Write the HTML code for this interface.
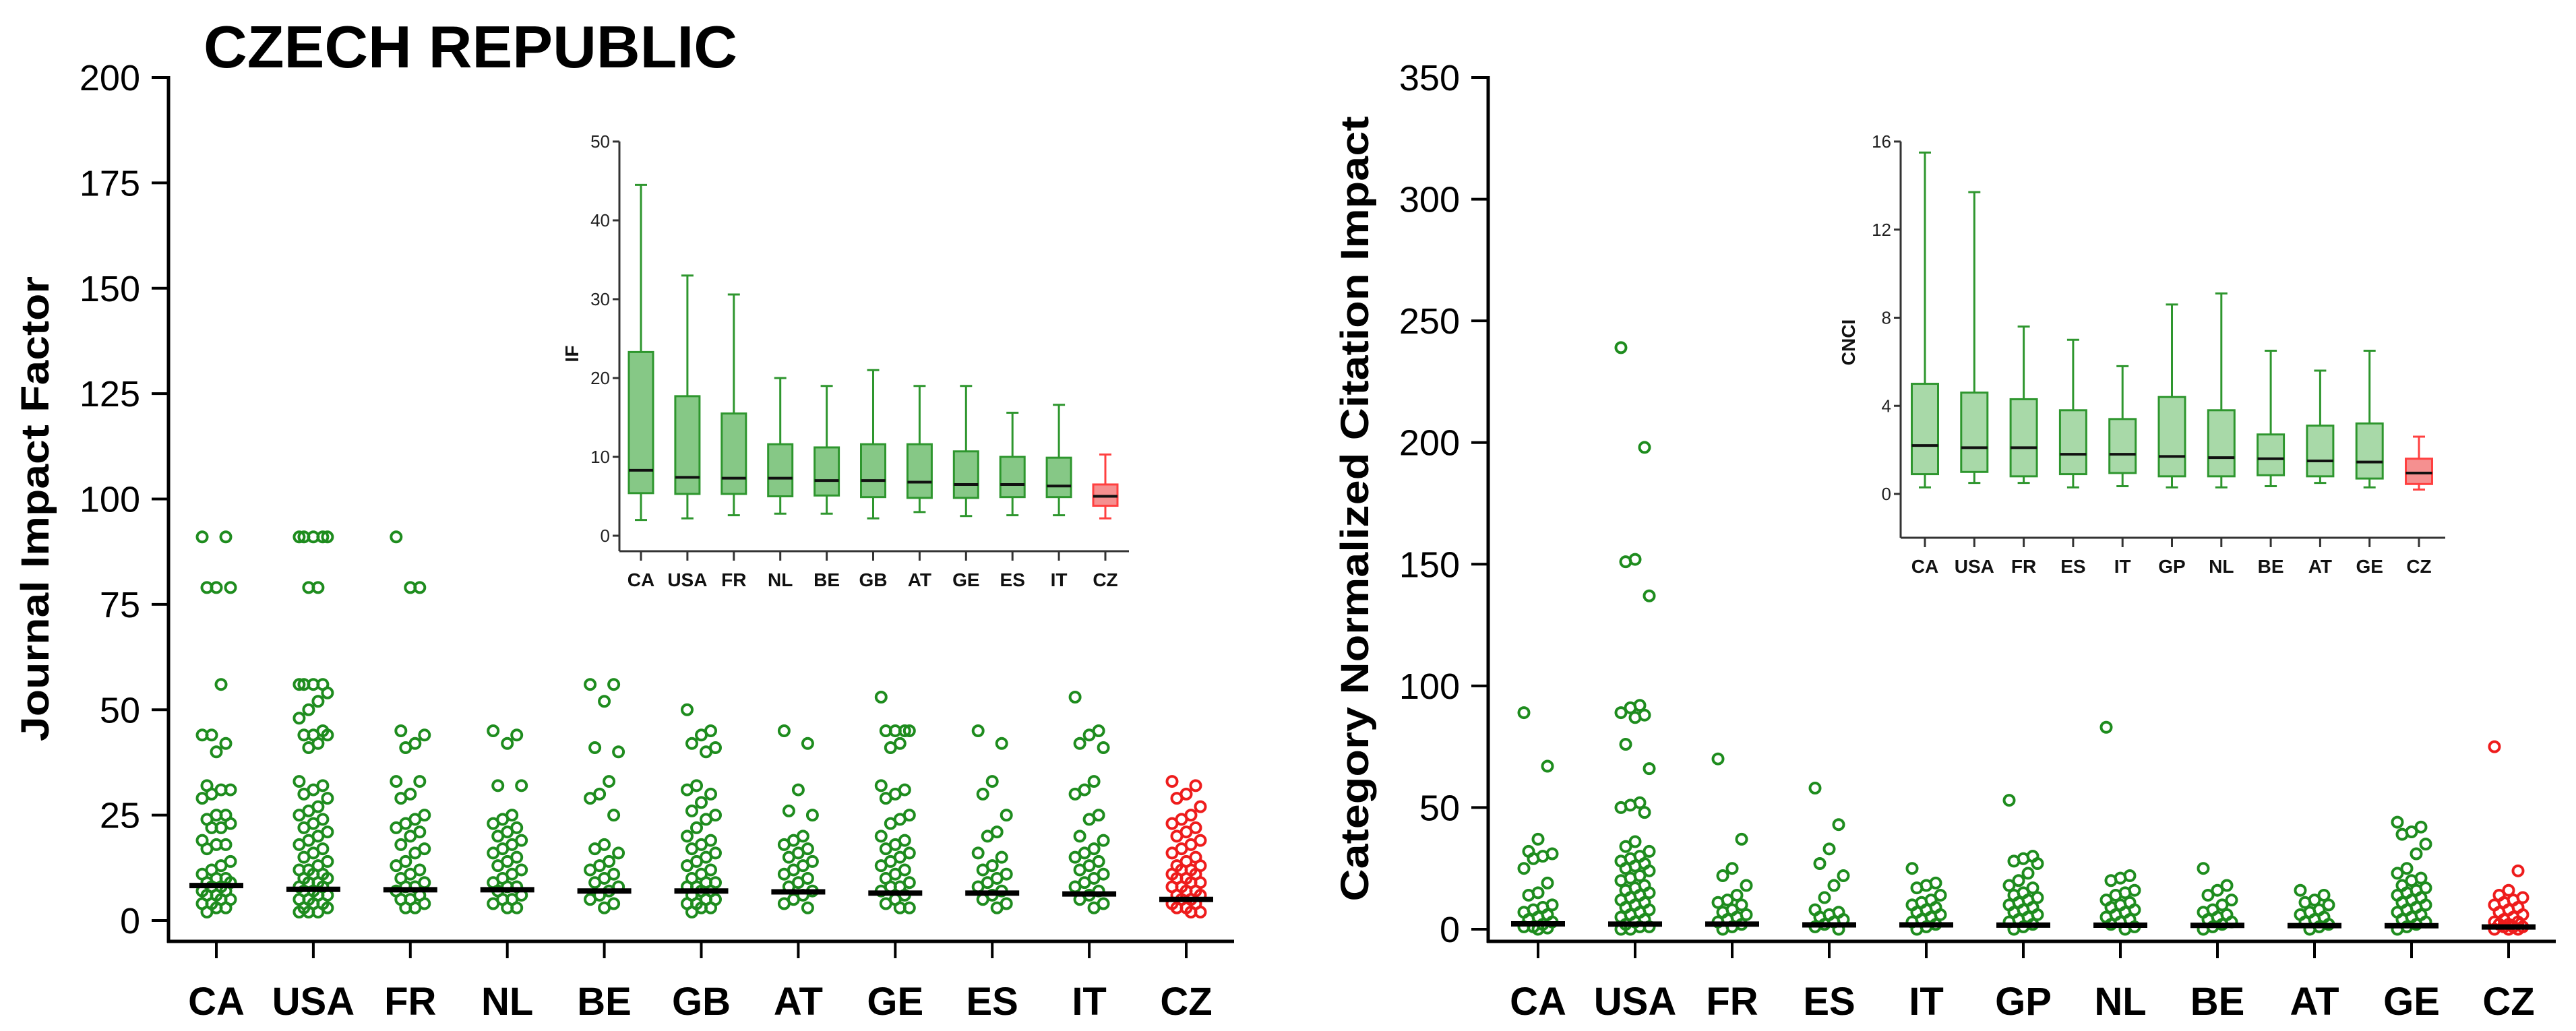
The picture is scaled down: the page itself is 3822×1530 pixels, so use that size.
<!DOCTYPE html>
<html><head><meta charset="utf-8"><style>
html,body{margin:0;padding:0;background:#fff;}
svg{display:block;font-family:"Liberation Sans",Arial,sans-serif;}
</style></head><body>
<svg id="chart" width="3822" height="1530" viewBox="0 0 3822 1530" xmlns="http://www.w3.org/2000/svg"></svg>
<script>
// ---------- DATA ----------
const leftCats = ["CA","USA","FR","NL","BE","GB","AT","GE","ES","IT","CZ"];
const leftYTicks = [0,25,50,75,100,125,150,175,200];
const leftPoints = [
 [91,91,79,79,79,56,44,44,42,40,32,31,31,30,29,25,25,24,23,22,22,19,18,18,17,14,13,12,11,10,10,9,9,8,8,7,7,6,6,5,5,4,4,3,3,2],
 [91,91,91,91,91,79,79,56,56,56,56,54,52,50,48,45,44,44,44,42,41,33,32,31,30,29,27,26,25,24,23,22,21,20,19,18,17,16,15,14,13,12,12,11,11,10,10,9,9,8,8,7,7,6,6,5,5,4,4,3,3,2,2,2],
 [91,79,79,45,44,42,41,33,33,30,29,25,24,23,22,21,20,18,17,16,14,13,12,11,10,9,8,8,7,6,5,5,4,3,3],
 [45,44,42,32,32,25,24,23,22,21,20,19,18,17,16,15,14,13,12,11,10,9,8,8,7,6,5,5,4,3,3],
 [56,56,52,41,40,33,30,29,25,18,17,16,14,13,12,11,10,9,8,7,6,5,4,3],
 [50,45,44,42,41,40,32,31,30,28,26,25,24,22,20,19,18,17,16,15,14,13,12,11,10,9,9,8,8,7,7,6,5,5,4,4,3,3,2],
 [45,42,31,26,25,20,19,18,17,16,15,14,13,12,11,10,9,8,7,6,5,4,3],
 [53,45,45,45,45,42,41,32,31,30,29,25,24,23,20,19,18,17,16,15,14,13,12,11,10,9,8,8,7,6,5,4,3,3],
 [45,42,33,30,25,21,20,16,15,13,12,11,10,9,8,7,6,5,4,3],
 [53,45,44,42,41,33,31,30,25,24,20,19,17,16,15,14,13,12,11,10,9,8,7,6,5,4,3],
 [33,32,30,29,27,25,24,23,22,21,20,19,18,17,16,15,14,13,13,12,12,11,11,10,10,9,9,8,8,7,7,6,6,5,5,4,4,3,3,2,2]
];
const leftMedians = [8.3,7.4,7.3,7.3,7.0,7.0,6.8,6.5,6.5,6.3,5.0];
const leftInsetTicks = [0,10,20,30,40,50];
const leftBoxLow = [2,2.2,2.6,2.8,2.8,2.2,3,2.5,2.6,2.6,2.2];
const leftBoxQ1 = [5.4,5.3,5.3,5.0,5.1,4.9,4.8,4.8,4.9,4.9,3.8];
const leftBoxMed = [8.3,7.4,7.3,7.3,7.0,7.0,6.8,6.5,6.5,6.3,5.0];
const leftBoxQ3 = [23.3,17.7,15.5,11.6,11.2,11.6,11.6,10.7,10.0,9.9,6.5];
const leftBoxHigh = [44.5,33,30.6,20,19,21,19,19,15.6,16.6,10.3];

const rightCats = ["CA","USA","FR","ES","IT","GP","NL","BE","AT","GE","CZ"];
const rightYTicks = [0,50,100,150,200,250,300,350];
const rightPoints = [
 [89,67,37,32,31,30,29,25,19,15,14,10,9,8,7,6,5,4,3,2,1,1,0.5,0],
 [239,198,152,151,137,92,91,89,88,87,76,66,52,51,50,48,36,34,32,30,29,28,27,26,25,24,22,21,20,18,17,16,15,14,13,12,11,10,9,8,7,6,5,4,3,2,1,1,0,0],
 [70,37,25,22,18,14,12,11,10,8,7,6,5,4,3,2,1,0],
 [58,43,33,27,22,18,13,8,7,6,5,4,3,2,1,0],
 [25,19,18,17,14,12,11,10,9,8,7,6,5,4,3,2,1,0],
 [53,30,29,28,27,23,20,18,17,15,14,13,12,11,10,9,8,7,6,5,4,3,2,1,0],
 [83,22,21,20,16,15,14,12,11,10,9,8,7,6,5,4,3,2,1,0],
 [25,18,16,14,12,10,8,7,6,5,4,3,2,1,0],
 [16,14,12,11,10,8,7,6,5,4,3,2,1,0],
 [44,42,40,39,35,31,25,23,21,20,18,17,16,15,14,13,12,11,10,9,8,7,6,5,4,3,2,1,0],
 [75,24,16,14,13,12,11,10,9,8,7,6,5,4,3,3,2,2,1,1,1,0,0,0]
];
const rightMedians = [2.2,2.1,2.1,1.8,1.8,1.7,1.65,1.6,1.5,1.45,0.95];
const rightInsetTicks = [0,4,8,12,16];
const rightBoxLow = [0.3,0.5,0.5,0.3,0.35,0.3,0.3,0.35,0.5,0.3,0.2];
const rightBoxQ1 = [0.9,1.0,0.8,0.9,0.95,0.8,0.8,0.85,0.8,0.7,0.45];
const rightBoxMed = [2.2,2.1,2.1,1.8,1.8,1.7,1.65,1.6,1.5,1.45,0.95];
const rightBoxQ3 = [5.0,4.6,4.3,3.8,3.4,4.4,3.8,2.7,3.1,3.2,1.6];
const rightBoxHigh = [15.5,13.7,7.6,7.0,5.8,8.6,9.1,6.5,5.6,6.5,2.6];

// ---------- DRAW ----------
const NS="http://www.w3.org/2000/svg";
const svg=document.getElementById('chart');
function mk(tag,attrs,parent){const e=document.createElementNS(NS,tag);for(const k in attrs)e.setAttribute(k,attrs[k]);(parent||svg).appendChild(e);return e;}
const GREEN="#1e8c1e", RED="#ee1c1c";

function mainPanel(o){
  const g=mk('g',{});
  
  
  const yS=v=>o.y0+(v/o.yMax)*(o.yTop-o.y0);
  const xS=i=>o.xFirst+i*o.xStep;
  const ax=mk('line',{x1:o.axX,y1:o.yTop-2,x2:o.axX,y2:o.axisY+2,stroke:'#000','stroke-width':5},g);
  
  
  const bx=mk('line',{x1:o.axX-2,y1:o.axisY,x2:o.axEnd,y2:o.axisY,stroke:'#000','stroke-width':5},g);
  
  
  o.ticks.forEach(t=>{
    const y=yS(t);
    mk('line',{x1:o.axX-25,y1:y,x2:o.axX,y2:y,stroke:'#000','stroke-width':4},g);
    const tx=mk('text',{x:o.axX-42,y:y+19,'text-anchor':'end','font-size':54,fill:'#000'},g);
    tx.textContent=t;
    
    
  });
  o.cats.forEach((c,i)=>{
    const x=xS(i);
    mk('line',{x1:x,y1:o.axisY,x2:x,y2:o.axisY+25,stroke:'#000','stroke-width':4},g);
    const tx=mk('text',{x:x,y:o.axisY+109,'text-anchor':'middle','font-size':58,'font-weight':'bold',fill:'#000'},g);
    tx.textContent=c;
    
    
    const col=c==='CZ'?RED:GREEN;
    o.points[i].forEach((v,j)=>{
      const off=(((j*5)%7)-3)*7;
      const p=mk('circle',{cx:x+off,cy:yS(v),r:7.5,fill:'none',stroke:col,'stroke-width':4},g);
      
      
    });
    const m=mk('line',{x1:x-40,y1:yS(o.medians[i]),x2:x+40,y2:yS(o.medians[i]),stroke:'#000','stroke-width':8},g);
    
    
  });
  const yt=mk('text',{x:0,y:0,transform:`translate(${o.titleX},${o.titleY}) rotate(-90)`,'text-anchor':'middle','font-size':58,'font-weight':'bold',fill:'#000',textLength:o.titleLen,lengthAdjust:'spacingAndGlyphs'},g);
  yt.textContent=o.title;
  
  
}

function inset(o){
  const g=mk('g',{});
  
  
  const yS=v=>o.y0+(v/o.yMax)*(o.yTop-o.y0);
  const xS=i=>o.xFirst+i*o.xStep;
  mk('line',{x1:o.axX,y1:o.yTop,x2:o.axX,y2:o.axisY,stroke:'#333','stroke-width':3},g);
  mk('line',{x1:o.axX,y1:o.axisY,x2:o.axEnd,y2:o.axisY,stroke:'#333','stroke-width':3},g);
  o.ticks.forEach(t=>{
    const y=yS(t);
    mk('line',{x1:o.axX-10,y1:y,x2:o.axX,y2:y,stroke:'#333','stroke-width':3},g);
    const tx=mk('text',{x:o.axX-14,y:y+9,'text-anchor':'end','font-size':26,fill:'#222'},g);
    tx.textContent=t;
    
    
  });
  const lab=mk('text',{x:0,y:0,transform:`translate(${o.labX},${o.labY}) rotate(-90)`,'text-anchor':'middle','font-size':28,'font-weight':'bold',fill:'#111'},g);
  lab.textContent=o.label;
  
  
  o.cats.forEach((c,i)=>{
    const x=xS(i), w=o.boxW;
    mk('line',{x1:x,y1:o.axisY,x2:x,y2:o.axisY+14,stroke:'#333','stroke-width':3},g);
    const tx=mk('text',{x:x,y:o.axisY+52,'text-anchor':'middle','font-size':28,'font-weight':'bold',fill:'#111'},g);
    tx.textContent=c;
    
    
    const red=c==='CZ';
    const st=red?'#ff4040':'#2e962e', fl=red?'#f59090':o.fill;
    const wh=mk('line',{x1:x,y1:yS(o.low[i]),x2:x,y2:yS(o.high[i]),stroke:st,'stroke-width':3},g);
    
    
    mk('line',{x1:x-9,y1:yS(o.low[i]),x2:x+9,y2:yS(o.low[i]),stroke:st,'stroke-width':3},g);
    mk('line',{x1:x-9,y1:yS(o.high[i]),x2:x+9,y2:yS(o.high[i]),stroke:st,'stroke-width':3},g);
    const b=mk('rect',{x:x-w/2,y:yS(o.q3[i]),width:w,height:yS(o.q1[i])-yS(o.q3[i]),fill:fl,stroke:st,'stroke-width':3},g);
    
    
    mk('line',{x1:x-w/2,y1:yS(o.med[i]),x2:x+w/2,y2:yS(o.med[i]),stroke:'#111','stroke-width':4},g);
  });
}

mainPanel({name:'left-panel',cats:leftCats,points:leftPoints,medians:leftMedians,ticks:leftYTicks,yMax:200,
  y0:1366,yTop:115,axX:250,axisY:1397,axEnd:1831,xFirst:321,xStep:143.9,
  title:'Journal Impact Factor',titleX:72,titleY:755,titleLen:690});
mainPanel({name:'right-panel',cats:rightCats,points:rightPoints,medians:rightMedians,ticks:rightYTicks,yMax:350,
  y0:1379,yTop:115,axX:2208,axisY:1397,axEnd:3792,xFirst:2282,xStep:144,
  title:'Category Normalized Citation Impact',titleX:2030,titleY:755,titleLen:1165});
inset({name:'left-inset',cats:leftCats,ticks:leftInsetTicks,yMax:50,y0:795,yTop:210,axX:919,axisY:818,axEnd:1675,
  xFirst:951,xStep:68.9,boxW:36,label:'IF',labX:858,labY:525,fill:'#86c886',
  low:leftBoxLow,q1:leftBoxQ1,med:leftBoxMed,q3:leftBoxQ3,high:leftBoxHigh});
inset({name:'right-inset',cats:rightCats,ticks:rightInsetTicks,yMax:16,y0:733,yTop:210,axX:2820,axisY:798,axEnd:3628,
  xFirst:2856,xStep:73.3,boxW:39,label:'CNCI',labX:2752,labY:508,fill:'#a8d9a8',
  low:rightBoxLow,q1:rightBoxQ1,med:rightBoxMed,q3:rightBoxQ3,high:rightBoxHigh});

const t=mk('text',{x:302,y:100,'font-size':88,'font-weight':'bold',fill:'#000',textLength:792,lengthAdjust:'spacingAndGlyphs'});
t.textContent='CZECH REPUBLIC';


</script>
</body></html>
